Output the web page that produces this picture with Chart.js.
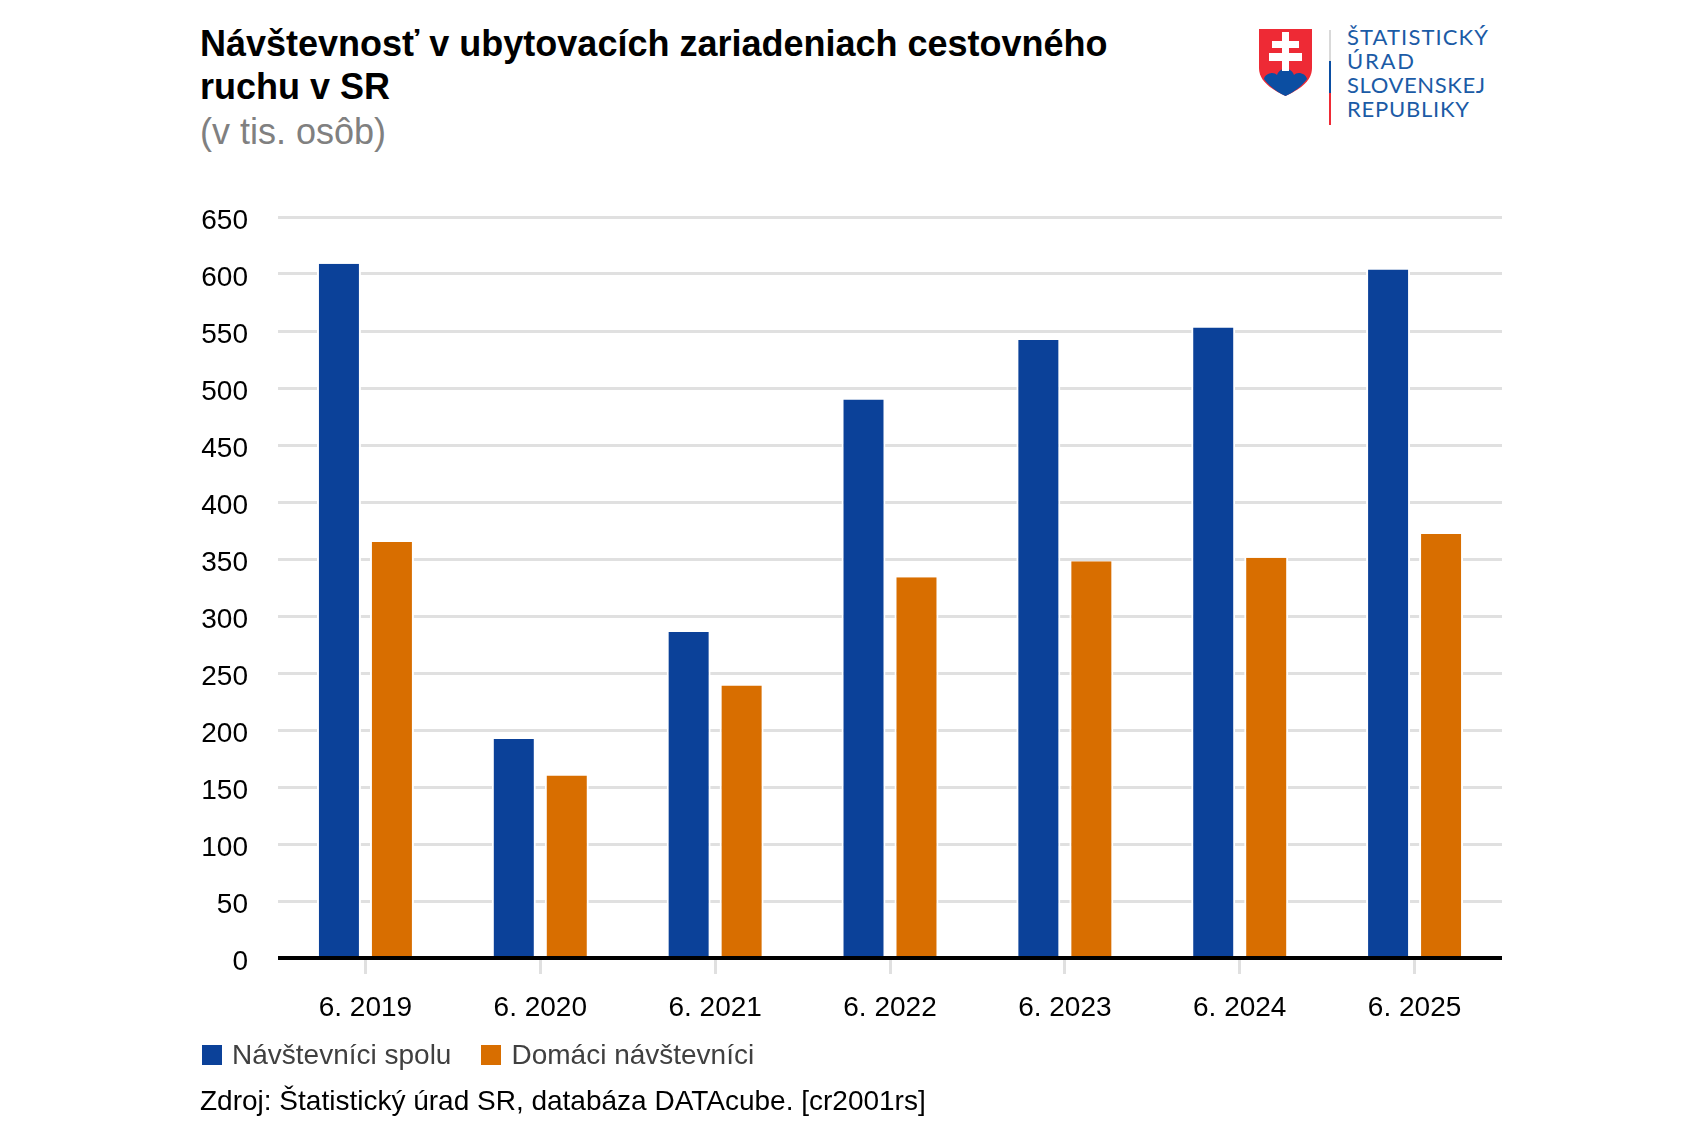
<!DOCTYPE html>
<html lang="sk">
<head>
<meta charset="utf-8">
<title>Návštevnosť v ubytovacích zariadeniach cestovného ruchu v SR</title>
<script src="https://cdn.jsdelivr.net/npm/chart.js@4"></script>
<style>
  html, body { margin: 0; padding: 0; background: #fff; }
  body { width: 1703px; height: 1136px; position: relative; overflow: hidden; font-family: "Liberation Sans", Arial, sans-serif; }
  #chart { position: absolute; left: 0; top: 0; }
  .txt { position: absolute; white-space: nowrap; }
  #title { left: 200px; top: 22px; font-weight: bold; font-size: 36px; line-height: 43px; color: #000; }
  #subtitle { left: 200px; top: 110px; font-size: 36px; line-height: 43px; color: #808080; }
  #legend { left: 202px; top: 1039px; display: flex; font-size: 28px; line-height: 32px; color: #404040; }
  #legend .item { display: flex; align-items: center; margin-right: 30px; }
  #legend .box { width: 20px; height: 20px; margin-right: 10px; }
  #source { left: 200px; top: 1085px; font-size: 28px; line-height: 32px; color: #000; }
  #logo { position: absolute; left: 1250px; top: 20px; }
</style>
</head>
<body>
<div id="title" class="txt">Návštevnosť v ubytovacích zariadeniach cestovného<br>ruchu v SR</div>
<div id="subtitle" class="txt">(v tis. osôb)</div>

<svg id="logo" width="260" height="115" viewBox="1250 20 260 115">
  <path d="M1259 29 H1312 V68 C1312 82 1298 90 1285.5 96 C1273 90 1259 82 1259 68 Z" fill="#ee2a35"/>
  <path d="M1264 79 C1265 73 1274 71 1277 75 C1279 70 1282 69 1285.5 69 C1289 69 1292 70 1294 75 C1297 71 1306 73 1307 79 C1302 86 1294 92 1285.5 96 C1277 92 1269 86 1264 79 Z" fill="#0b4ea2"/>
  <path d="M1282 32 H1289 V41 H1299 V48 H1289 V53 H1302 V61 H1289 V71 H1282 V61 H1269 V53 H1282 V48 H1272 V41 H1282 Z" fill="#fff"/>
  <rect x="1329" y="30" width="2" height="31" fill="#d9d9d9"/>
  <rect x="1329" y="61" width="2" height="32" fill="#0b4ea2"/>
  <rect x="1329" y="93" width="2" height="32" fill="#ee2a35"/>
  <g font-family="Lato" font-size="22" fill="#1b5ba6" lengthAdjust="spacing">
    <text x="1347" y="45" textLength="141">ŠTATISTICKÝ</text>
    <text x="1347" y="69" textLength="67">ÚRAD</text>
    <text x="1347" y="93" textLength="138">SLOVENSKEJ</text>
    <text x="1347" y="117" textLength="122">REPUBLIKY</text>
  </g>
</svg>

<canvas id="chart" width="1703" height="1136"></canvas>

<div id="legend" class="txt"></div>
<div id="source" class="txt">Zdroj: Štatistický úrad SR, databáza DATAcube. [cr2001rs]</div>

<script>
const categories = ["6. 2019", "6. 2020", "6. 2021", "6. 2022", "6. 2023", "6. 2024", "6. 2025"];
const visitorsTotal = [609, 192, 286, 490, 542, 553, 604];
const visitorsDomestic = [365, 160, 239, 334, 348, 351, 372];
const seriesNames = ["Návštevníci spolu", "Domáci návštevníci"];
const seriesColors = ["#0b4199", "#d86e00"];
const yMax = 650;
const yStep = 50;

const tickFont = { family: "'Liberation Sans', Arial, sans-serif", size: 28 };

// black baseline over the bars, only as wide as the plot area
// (the axis border option overshoots both ends by half its width)
const baselinePlugin = {
  id: "baseline",
  afterDatasetsDraw(chart) {
    const { ctx, chartArea, scales } = chart;
    const y = scales.y.getPixelForValue(0);
    ctx.save();
    ctx.strokeStyle = "#000";
    ctx.lineWidth = 4;
    ctx.beginPath();
    ctx.moveTo(chartArea.left, y);
    ctx.lineTo(chartArea.right, y);
    ctx.stroke();
    ctx.restore();
  }
};

const chart = new Chart(document.getElementById("chart").getContext("2d"), {
  type: "bar",
  data: {
    labels: categories,
    datasets: [
      { label: seriesNames[0], data: visitorsTotal, backgroundColor: seriesColors[0] },
      { label: seriesNames[1], data: visitorsDomestic, backgroundColor: seriesColors[1] }
    ]
  },
  plugins: [baselinePlugin],
  options: {
    responsive: false,
    animation: false,
    devicePixelRatio: 1,
    layout: { padding: { left: 150, right: 201, top: 217, bottom: 78 } },
    datasets: {
      bar: {
        categoryPercentage: 0.606,
        barPercentage: 0.83,
        // white halo at the sides of each bar, where it cuts the gridlines
        borderWidth: { left: 2, right: 2, top: 0, bottom: 0 },
        borderColor: "#fff"
      }
    },
    plugins: { legend: { display: false }, title: { display: false }, tooltip: { enabled: false } },
    scales: {
      x: {
        afterFit: (scale) => { scale.height = 100; },
        grid: { offset: false, drawOnChartArea: false, drawTicks: true, tickLength: 16, tickWidth: 3, tickColor: "#e0e0e0" },
        border: { display: false },
        ticks: { color: "#000", font: tickFont, padding: 17, maxRotation: 0, autoSkip: false }
      },
      y: {
        min: 0,
        max: yMax,
        afterFit: (scale) => { scale.width = 128; },
        grid: { color: "#e0e0e0", lineWidth: 3, drawTicks: false },
        border: { display: false },
        ticks: { stepSize: yStep, color: "#000", font: tickFont, padding: 30, labelOffset: 4 }
      }
    }
  }
});

// legend built from the chart's own datasets
const legendEl = document.getElementById("legend");
chart.data.datasets.forEach((ds) => {
  const item = document.createElement("div");
  item.className = "item";
  const box = document.createElement("span");
  box.className = "box";
  box.style.background = ds.backgroundColor;
  const label = document.createElement("span");
  label.textContent = ds.label;
  item.append(box, label);
  legendEl.append(item);
});
</script>
</body>
</html>
